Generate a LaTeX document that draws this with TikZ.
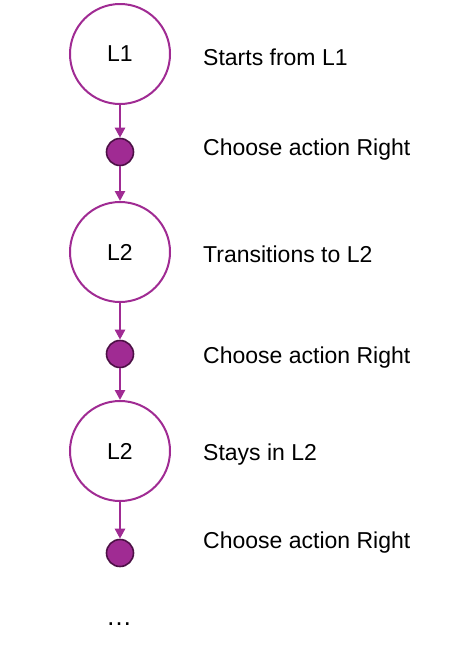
\documentclass[tikz,border=0pt]{standalone}
\usepackage{fontspec}
\setmainfont{Liberation Sans}
\usetikzlibrary{arrows.meta}
\definecolor{plum}{RGB}{160,43,147}
\definecolor{darkplum}{RGB}{77,16,70}
\begin{document}
\begin{tikzpicture}[x=1pt,y=-1pt,
	state/.style={circle,draw=plum,line width=2pt,fill=white,minimum size=100pt,inner sep=0pt,font=\fontsize{23}{26}\selectfont},
	choice/.style={circle,draw=darkplum,line width=1.6pt,fill=plum,minimum size=27pt,inner sep=0pt},
	note/.style={anchor=base west,inner sep=0pt,font=\fontsize{23}{26}\selectfont},
	flow/.style={-{Triangle[length=10pt,width=10pt]},draw=plum,line width=2.6pt}]
	\useasboundingbox (0,0) rectangle (450,651);
	\node[state](S1) at (120,54){L1};
	\node[choice](A1) at (120,152){};
	\node[state](S2) at (120,252){L2};
	\node[choice](A2) at (120,354){};
	\node[state](S3) at (120,451){L2};
	\node[choice](A3) at (120,553){};
	\node[inner sep=0pt,font=\fontsize{26}{30}\selectfont](more) at (119,624){\ldots};
	\node[note](N1) at (203,65){Starts from L1};
	\node[note](N2) at (203,155){Choose action Right};
	\node[note](N3) at (203,262){Transitions to L2};
	\node[note](N4) at (203,363){Choose action Right};
	\node[note](N5) at (203,460){Stays in L2};
	\node[note](N6) at (203,548){Choose action Right};
	\draw [flow] (S1) -- (A1);
	\draw [flow] (A1) -- (S2);
	\draw [flow] (S2) -- (A2);
	\draw [flow] (A2) -- (S3);
	\draw [flow] (S3) -- (A3);
\end{tikzpicture}
\end{document}
